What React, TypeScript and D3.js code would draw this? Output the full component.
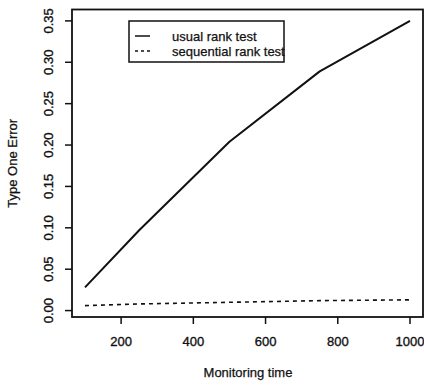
import React from "react";
import * as d3 from "d3";

// monitoring times and type one error rates
const times = [100, 250, 500, 750, 1000];
const usualRank = [0.028, 0.097, 0.204, 0.289, 0.35];
const sequentialRank = [0.006, 0.008, 0.01, 0.012, 0.013];
const xTicks = [200, 400, 600, 800, 1000];
const yTicks = [0, 0.05, 0.1, 0.15, 0.2, 0.25, 0.3, 0.35];
const legendLabels = ["usual rank test", "sequential rank test"];

const W = 424;
const H = 386;
const FONT = "'Liberation Sans', Arial, Helvetica, sans-serif";
const INK = "#111";

// R style 4% padding around the data range
function padded(lo: number, hi: number): [number, number] {
  const p = (hi - lo) * 0.04;
  return [lo - p, hi + p];
}

export default function App() {
  const [x0, x1] = d3.extent(times) as [number, number];
  const allY = usualRank.concat(sequentialRank);
  const [y0, y1] = d3.extent(allY) as [number, number];

  const x = d3.scaleLinear().domain(padded(x0, x1)).range([72, 423]);
  const y = d3.scaleLinear().domain(padded(y0, y1)).range([317, 9.5]);

  const line = d3
    .line<number>()
    .x((_, i) => x(times[i]))
    .y((d) => y(d));

  const fmt = d3.format(".2f");
  const [left, right] = x.range();
  const [bottom, top] = y.range();

  const series = [
    { values: usualRank, dash: undefined as string | undefined },
    { values: sequentialRank, dash: "4,4" },
  ];

  // scanned print looks heavy, thicken glyphs a little
  const textStyle = { fontSize: 13, fill: INK, stroke: INK, strokeWidth: 0.35 };

  return (
    <svg
      width={W}
      height={H}
      style={{ position: "absolute", left: 0, top: 0, background: "#fff" }}
      fontFamily={FONT}
    >
      {/* plot frame */}
      <rect
        x={left}
        y={top}
        width={right - left}
        height={bottom - top}
        fill="none"
        stroke={INK}
        strokeWidth={1.8}
      />

      {/* y axis */}
      {yTicks.map((t) => (
        <g key={"y" + t}>
          <line x1={left - 7} x2={left} y1={y(t)} y2={y(t)} stroke={INK} strokeWidth={1.5} />
          <text transform={`translate(53,${y(t)}) rotate(-90)`} textAnchor="middle" {...textStyle}>
            {fmt(t)}
          </text>
        </g>
      ))}

      {/* x axis */}
      {xTicks.map((t) => (
        <g key={"x" + t}>
          <line x1={x(t)} x2={x(t)} y1={bottom} y2={bottom + 7} stroke={INK} strokeWidth={1.5} />
          <text x={x(t)} y={346} textAnchor="middle" {...textStyle}>
            {t}
          </text>
        </g>
      ))}

      {/* axis titles */}
      <text x={248} y={377} textAnchor="middle" {...textStyle} strokeWidth={0.25}>
        Monitoring time
      </text>
      <text
        transform={`translate(17,${(top + bottom) / 2}) rotate(-90)`}
        textAnchor="middle"
        {...textStyle}
        strokeWidth={0.25}
      >
        Type One Error
      </text>

      {/* series */}
      {series.map((s, i) => (
        <path
          key={i}
          d={line(s.values) ?? ""}
          fill="none"
          stroke={INK}
          strokeWidth={i === 0 ? 2 : 1.6}
          strokeDasharray={s.dash}
          strokeLinejoin="round"
        />
      ))}

      {/* legend */}
      <rect x={129} y={21} width={155} height={41} fill="#fff" stroke={INK} strokeWidth={1.5} />
      {legendLabels.map((label, i) => (
        <g key={label}>
          <line
            x1={135}
            x2={150}
            y1={36 + i * 15}
            y2={36 + i * 15}
            stroke={INK}
            strokeWidth={1.5}
            strokeDasharray={series[i].dash ? "3,3" : undefined}
          />
          <text x={172} y={36 + i * 15} dy="0.35em" {...textStyle} strokeWidth={0.25}>
            {label}
          </text>
        </g>
      ))}
    </svg>
  );
}
